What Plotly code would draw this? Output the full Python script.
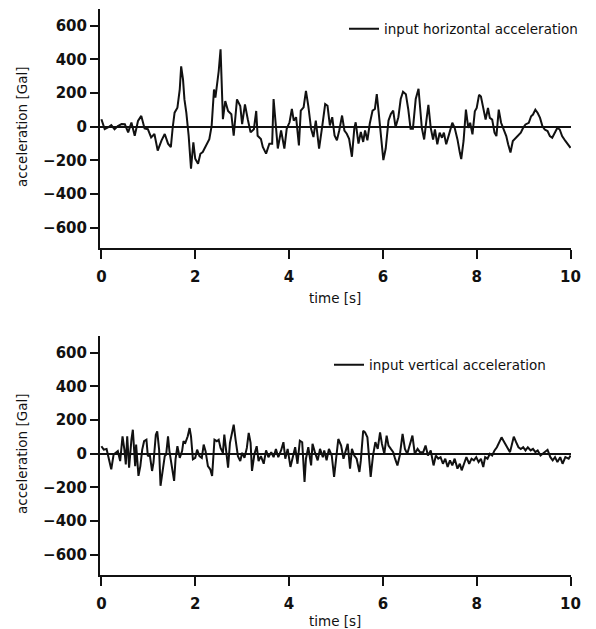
import plotly.graph_objects as go

# input horizontal acceleration
t_h = [0.00, 0.04, 0.07, 0.14, 0.21, 0.28, 0.35, 0.43, 0.50, 0.57, 0.64, 0.71, 0.78, 0.85,
       0.92, 0.99, 1.06, 1.13, 1.20, 1.28, 1.35, 1.42, 1.48, 1.52, 1.56, 1.62, 1.67, 1.70,
       1.74, 1.77, 1.81, 1.86, 1.91, 1.96, 2.00, 2.06, 2.11, 2.16, 2.23, 2.30, 2.35, 2.40,
       2.43, 2.47, 2.50, 2.54, 2.57, 2.59, 2.64, 2.70, 2.77, 2.82, 2.89, 2.96, 3.00, 3.06,
       3.12, 3.18, 3.25, 3.30, 3.33, 3.40,
       3.44, 3.51, 3.58, 3.64, 3.67, 3.72, 3.76, 3.83, 3.90, 3.95, 4.01, 4.06, 4.10, 4.15,
       4.21, 4.25, 4.31, 4.36, 4.41, 4.47, 4.52, 4.57, 4.64, 4.71, 4.77, 4.82, 4.87, 4.92,
       4.97, 5.02, 5.07, 5.13, 5.18, 5.23, 5.28, 5.34, 5.39, 5.42, 5.48, 5.53, 5.58, 5.62,
       5.67, 5.72, 5.78, 5.83, 5.87, 5.91, 5.96, 6.01, 6.06, 6.12, 6.17, 6.22, 6.27, 6.33,
       6.38, 6.43, 6.49, 6.54, 6.59, 6.64, 6.70, 6.76,
       6.83, 6.88, 6.93, 6.97, 7.02, 7.07, 7.11, 7.16, 7.21, 7.26, 7.30, 7.35, 7.41, 7.48,
       7.53, 7.59, 7.64, 7.67, 7.72, 7.77, 7.82, 7.86, 7.91, 7.96, 8.00, 8.05, 8.09, 8.14,
       8.19, 8.24, 8.28, 8.33, 8.38, 8.42, 8.47, 8.52, 8.58, 8.63, 8.67, 8.72, 8.77, 8.83,
       8.88, 8.94, 8.99, 9.04, 9.11, 9.16, 9.20, 9.25, 9.30, 9.35, 9.40, 9.45, 9.51, 9.56,
       9.61, 9.66, 9.72, 9.77, 9.82, 9.89, 10.0]
a_h = [45, 10, -14, -4, 10, -14, 5, 16, 15, -33, 25, -53, 35, 65,
       -10, -14, -63, -43, -141, -82, -43, -100, -121, -4, 84, 114, 222, 359,
       280, 163, 84, -53, -249, -92, -190, -220, -160, -150, -112, -73, 6, 222,
       173, 260, 330, 460, 240, 45, 153, 94, 75, -53, 163, 124, 16, 133,
       45, -33, -14, 94, -53, -73,
       -120, -159, -100, -100, 165, -31, -129, -22, -129, -12, 27, 106, 37, 57,
       -110, 96, 116, 214, 125, -12, -61, 37, -129, 8, 135, 125, 8, 57,
       -51, -80, -22, 67, -22, -41, -71, -178, -12, 27, -100, -31, -90, -22,
       -80, 18, 96, 106, 194, 86, -71, -198, -129, 37, 76, 96, -2, 57,
       165, 208, 194, 106, -12, -12, 165, 226,
       -6, -75, 43, 131, -6, -75, -16, -104, -35, -65, -35, -104, -45, 24,
       -6, -75, -153, -192, -84, 102, -6, 24, -45, 92, 112, 190, 180, 112,
       43, 112, 53, 43, -35, -55, 102, 24, -16, -55, -104, -153, -84, -65,
       -55, -35, -6, 14, 24, 63, 73, 102, 82, 53, 4, -16, -25, -55,
       -65, -35, -6, -16, -55, -84, -125]

# input vertical acceleration
t_v = [0.00, 0.05, 0.11, 0.16, 0.21, 0.26, 0.30, 0.35, 0.40, 0.45, 0.49, 0.52, 0.55, 0.59,
       0.64, 0.67, 0.72, 0.74, 0.79, 0.83, 0.87, 0.91, 0.96, 0.99, 1.03, 1.08, 1.11, 1.16,
       1.19, 1.23, 1.26, 1.30, 1.35, 1.38, 1.42, 1.45, 1.50, 1.55, 1.58, 1.62, 1.67, 1.72,
       1.75, 1.79, 1.84, 1.88, 1.91, 1.95, 2.00, 2.04, 2.09, 2.14, 2.18, 2.22, 2.27, 2.32,
       2.36, 2.41, 2.46, 2.50, 2.54, 2.59, 2.62, 2.66, 2.70, 2.74, 2.79, 2.82, 2.86, 2.91,
       2.96, 3.00, 3.05, 3.10, 3.14, 3.18, 3.21, 3.26, 3.31, 3.35, 3.40,
       3.46, 3.51, 3.56, 3.62, 3.67, 3.72, 3.77, 3.83, 3.88, 3.92, 3.97, 4.03, 4.08, 4.13,
       4.18, 4.23, 4.28, 4.33, 4.36, 4.41, 4.47, 4.50, 4.55, 4.61, 4.66, 4.72, 4.75, 4.80,
       4.85, 4.91, 4.96, 5.01, 5.05, 5.11, 5.16, 5.20, 5.25, 5.30, 5.34, 5.39, 5.44, 5.50,
       5.53, 5.58, 5.62, 5.67, 5.71, 5.74, 5.79, 5.84, 5.89, 5.94, 5.98, 6.03, 6.08, 6.12,
       6.17, 6.22, 6.26, 6.31, 6.36, 6.42, 6.47, 6.52, 6.57, 6.63, 6.68, 6.74, 6.79,
       6.86, 6.91, 6.96, 7.02, 7.08, 7.13, 7.18, 7.23, 7.28, 7.33, 7.38, 7.43, 7.48, 7.53,
       7.59, 7.64, 7.68, 7.73, 7.78, 7.84, 7.89, 7.94, 7.99, 8.04, 8.09, 8.14, 8.18, 8.23,
       8.28, 8.33, 8.38, 8.43, 8.48, 8.53, 8.57, 8.62, 8.67, 8.71, 8.76, 8.79, 8.84, 8.89,
       8.94, 8.99, 9.04, 9.09, 9.15, 9.20, 9.25, 9.30, 9.36, 9.41, 9.46, 9.51, 9.57, 9.62,
       9.67, 9.72, 9.78, 9.83, 9.89, 9.96, 10.0]
a_v = [45, 25, 29, -24, -92, -4, 6, 16, -43, 104, 25, -63, 104, -82,
       84, 143, -73, 55, -131, -73, 25, 75, 84, -14, -4, -102, -53, 114,
       133, 25, -190, -122, -14, -4, 104, 16, -63, -161, -33, 45, -24, 16,
       75, 65, 104, 153, 104, -33, -24, 25, -14, -24, 55, 16, -73, -92,
       -131, 84, 75, 84, 35, 6, 114, 6, -82, 65, 124, 173, 84, -14,
       -43, 6, -24, 35, 124, 65, -102, -4, 45, -43, -14,
       -59, 20, -20, 10, -20, 29, -20, 20, 69, -29, 29, -78, -10, 39,
       -59, 78, 69, -167, -29, 39, -69, 59, 10, -39, 29, -20, 20, -39,
       29, -10, -137, -10, 88, 49, -29, 10, 59, -88, 29, -10, -29, -108,
       -39, 137, 127, 98, -20, -137, -10, 69, 29, 127, 59, 0, 108, 49,
       29, 10, -29, -69, -10, 118, 29, 0, 49, 108, 0, 29, 10,
       10, 49, -10, 20, -69, -10, -29, -20, -59, -29, -78, -39, -69, -29,
       -88, -59, -98, -59, -20, -59, -29, -39, -20, -49, -29, -78, -20, -29,
       0, -10, 20, 39, 69, 98, 78, 49, 29, 10, 78, 102, 69, 39,
       29, 39, 20, 39, 20, 29, 10, 20, -10, 0, 10, 24, -20, -39,
       -20, -49, -20, -59, -20, -29, -10]

y_ticks = [-600, -400, -200, 0, 200, 400, 600]
x_ticks = [0, 2, 4, 6, 8, 10]

W, H = 596, 629
FONT = "DejaVu Sans"

fig = go.Figure()
fig.add_trace(go.Scatter(x=t_h, y=a_h, mode="lines", name="input horizontal acceleration",
                         line=dict(color="#111111", width=2), xaxis="x", yaxis="y",
                         legend="legend", showlegend=True))
fig.add_trace(go.Scatter(x=t_v, y=a_v, mode="lines", name="input vertical acceleration",
                         line=dict(color="#111111", width=2), xaxis="x2", yaxis="y2",
                         legend="legend2", showlegend=True))

xdom = [100 / W, 571 / W]
xax = dict(domain=xdom, range=[-0.03, 10.01], tickvals=x_ticks, ticks="outside", ticklen=9,
           tickwidth=2, tickcolor="#111", showline=True, linewidth=2, linecolor="#111",
           showgrid=False, zeroline=False, ticklabelstandoff=5, automargin=False,
           tickfont=dict(family=FONT, size=15, color="#111", weight="bold"))
yax = dict(range=[-720, 700], tickvals=y_ticks, ticks="outside", ticklen=8, tickwidth=2,
           tickcolor="#111", showline=True, linewidth=2, linecolor="#111", showgrid=False,
           zeroline=True, zerolinecolor="#111", zerolinewidth=1.6, automargin=False,
           tickfont=dict(family=FONT, size=15, color="#111", weight="bold"))

fig.update_layout(
    width=W, height=H, margin=dict(l=0, r=0, t=0, b=0),
    paper_bgcolor="white", plot_bgcolor="white", showlegend=True,
    xaxis=dict(xax, anchor="y"),
    yaxis=dict(yax, domain=[1 - 248 / H, 1 - 9 / H], anchor="x"),
    xaxis2=dict(xax, anchor="y2"),
    yaxis2=dict(yax, domain=[1 - 575 / H, 1 - 336 / H], anchor="x2"),
    legend=dict(x=344 / W, y=1 - 29 / H, xanchor="left", yanchor="middle",
                bgcolor="rgba(0,0,0,0)", font=dict(family=FONT, size=13.5, color="#111")),
    legend2=dict(x=329 / W, y=1 - 365 / H, xanchor="left", yanchor="middle",
                 bgcolor="rgba(0,0,0,0)", font=dict(family=FONT, size=13.5, color="#111")),
)

# axis titles placed as annotations
title_font = dict(family=FONT, size=13.5, color="#111")
for yc in (127, 454):
    fig.add_annotation(text="acceleration [Gal]", xref="paper", yref="paper",
                       x=22 / W, y=1 - yc / H, textangle=-90, showarrow=False,
                       xanchor="center", yanchor="middle", font=title_font)
for yc in (298, 621):
    fig.add_annotation(text="time [s]", xref="paper", yref="paper",
                       x=335 / W, y=1 - yc / H, showarrow=False,
                       xanchor="center", yanchor="middle", font=title_font)

# the page body has a default 8px margin; drop it so the figure fills the window
fig.write_html("out.html", config={"displayModeBar": False},
               post_script="document.body.style.margin='0';")
